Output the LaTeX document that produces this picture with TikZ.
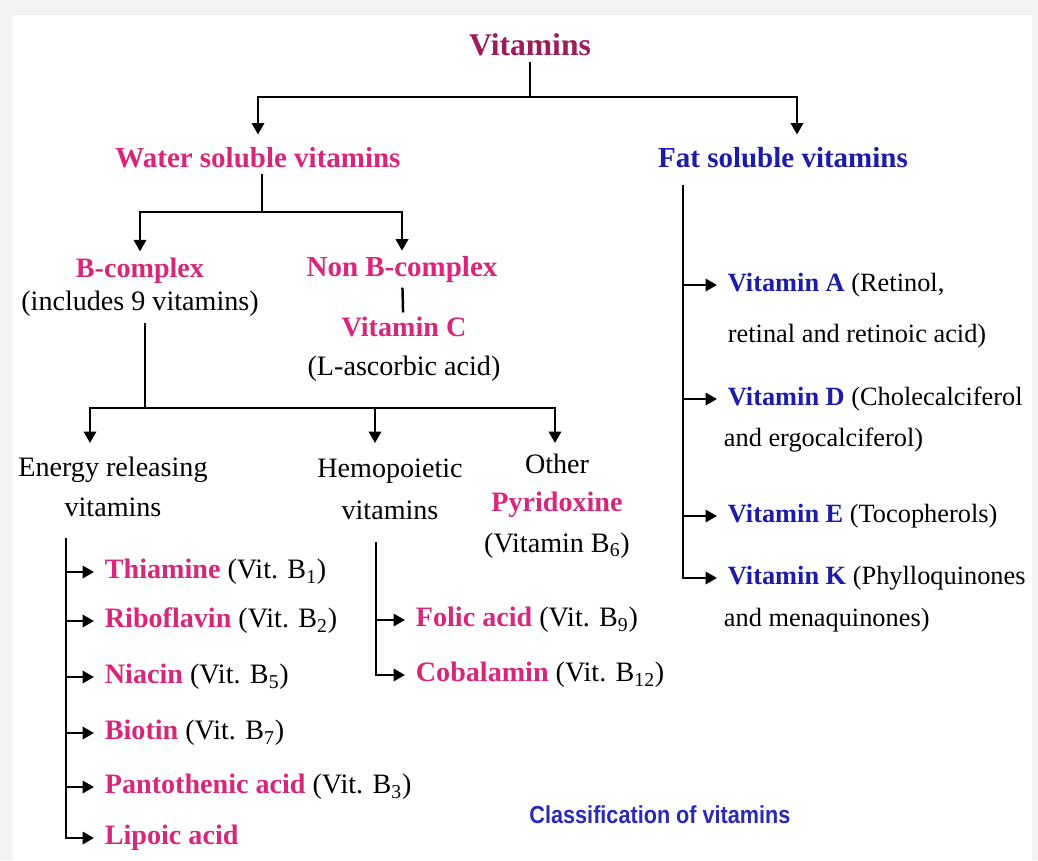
\documentclass[tikz,border=0pt]{standalone}
\usepackage{fontspec}
\setmainfont{Liberation Serif}
\newfontfamily\capfont[FakeStretch=0.88]{Liberation Sans}
\usetikzlibrary{arrows.meta,positioning}
\definecolor{titlepink}{HTML}{9C1C5C}
\definecolor{pinkvit}{HTML}{D8267A}
\definecolor{fatblue}{HTML}{1C1CA8}
\definecolor{capblue}{HTML}{2A2AB4}
\definecolor{pagegrey}{HTML}{F3F3F3}
\newcommand{\wsv}[1]{\textcolor{pinkvit}{\bfseries #1}}
\newcommand{\fsv}[1]{\textcolor{fatblue}{\bfseries #1}}

\begin{document}
\begin{tikzpicture}[x=0.02cm, y=-0.02cm, font=\fontsize{16}{19}\selectfont,
  head/.style={font=\fontsize{16.5}{19}\selectfont\bfseries, text=pinkvit},
  group/.style={align=center},
  item/.style={anchor=west, inner xsep=6pt, inner ysep=2pt},
  fatitem/.style={item, font=\fontsize{15}{18}\selectfont},
  line/.style={line width=1.4pt},
  arr/.style={line width=1.4pt, -{Triangle[length=6.5pt,width=7pt]}}
]
% page
\fill[pagegrey] (0,0) rectangle (1038,860);
\fill[white] (13,15) rectangle (1032,860);
\useasboundingbox (0,0) rectangle (1038,860);

% top level
\node[font=\fontsize{18}{20}\selectfont\bfseries, text=titlepink] (vit) at (530,45) {Vitamins};
\node[head] (water) at (258,158) {Water soluble vitamins};
\node[head, text=fatblue] (fat) at (783,158) {Fat soluble vitamins};
\coordinate (split1) at (530,97);
\draw[line] (vit) -- (split1);
\draw[arr, shorten >=4pt] (split1) -| (water);
\draw[arr, shorten >=4pt] (split1) -| ([xshift=0.28cm]fat.north);

% water soluble
\node[group] (bcx) at (140,287) {\wsv{B-complex}\\(includes 9 vitamins)};
\node[head] (nonb) at (402,270) {Non B-complex};
\node[group] (vitc) at (404,349) {\wsv{Vitamin C}\\[3pt](L-ascorbic acid)};
\coordinate (split2) at (262,212);
\draw[line] (split2 |- water.south) -- (split2);
\draw[arr] (split2) -| (bcx);
\draw[arr] (split2) -| (nonb);
\draw[line, shorten <=-1pt, shorten >=-1pt] (nonb) -- (vitc);

% B-complex groups
\node[group] (energy) at (113,487) {Energy releasing\\[4pt]vitamins};
\node[group] (hemo) at (390,489) {Hemopoietic\\[5pt]vitamins};
\node[group] (other) at (557,506) {Other\\[3pt]\wsv{Pyridoxine}\\[4pt](Vitamin B\textsubscript{6})};
\coordinate (split3) at (145,408);
\coordinate (toE) at (90,443);
\coordinate (toH) at (375,443);
\coordinate (toO) at (555,443);
\draw[line] (split3 |- bcx.south) -- (split3);
\draw[arr] (split3) -| (toE);
\draw[arr] (split3) -| (toO);
\draw[arr] (toH |- split3) -- (toH);

% energy releasing
\coordinate (eTop) at (66,538);
\node[item] (thi) at (94,572) {\wsv{Thiamine} (Vit. B\textsubscript{1})};
\node[item] (rib) at (94,621) {\wsv{Riboflavin} (Vit. B\textsubscript{2})};
\node[item] (nia) at (94,677) {\wsv{Niacin} (Vit. B\textsubscript{5})};
\node[item] (bio) at (94,733) {\wsv{Biotin} (Vit. B\textsubscript{7})};
\node[item] (pan) at (94,787) {\wsv{Pantothenic acid} (Vit. B\textsubscript{3})};
\node[item] (lip) at (94,838) {\wsv{Lipoic acid}};
\draw[arr] (eTop) |- (lip);
\foreach \n in {thi,rib,nia,bio,pan}
  \draw[arr] (eTop |- \n.west) -- (\n);

% hemopoietic
\coordinate (hTop) at (376,542);
\node[item] (fol) at (405,620) {\wsv{Folic acid} (Vit. B\textsubscript{9})};
\node[item] (cob) at (405,675) {\wsv{Cobalamin} (Vit. B\textsubscript{12})};
\draw[arr] (hTop) |- (cob);
\draw[arr] (hTop |- fol.west) -- (fol);

% fat soluble
\coordinate (fTop) at (683,185);
\node[fatitem] (vA) at (717,285) {\fsv{Vitamin A} (Retinol,};
\node[fatitem] (vA2) at (717,336) {retinal and retinoic acid)};
\node[fatitem] (vD) at (717,399) {\fsv{Vitamin D} (Cholecalciferol};
\node[fatitem] (vD2) at (713,440) {and ergocalciferol)};
\node[fatitem] (vE) at (717,516) {\fsv{Vitamin E} (Tocopherols)};
\node[fatitem] (vK) at (717,578) {\fsv{Vitamin K} (Phylloquinones};
\node[fatitem] (vK2) at (713,620) {and menaquinones)};
\draw[arr] (fTop) |- (vK);
\foreach \n in {vA,vD,vE}
  \draw[arr] (fTop |- \n.west) -- (\n);

\node[font=\capfont\bfseries\fontsize{14}{16}\selectfont, text=capblue] (cap) at (660,815) {Classification of vitamins};
\end{tikzpicture}
\end{document}
